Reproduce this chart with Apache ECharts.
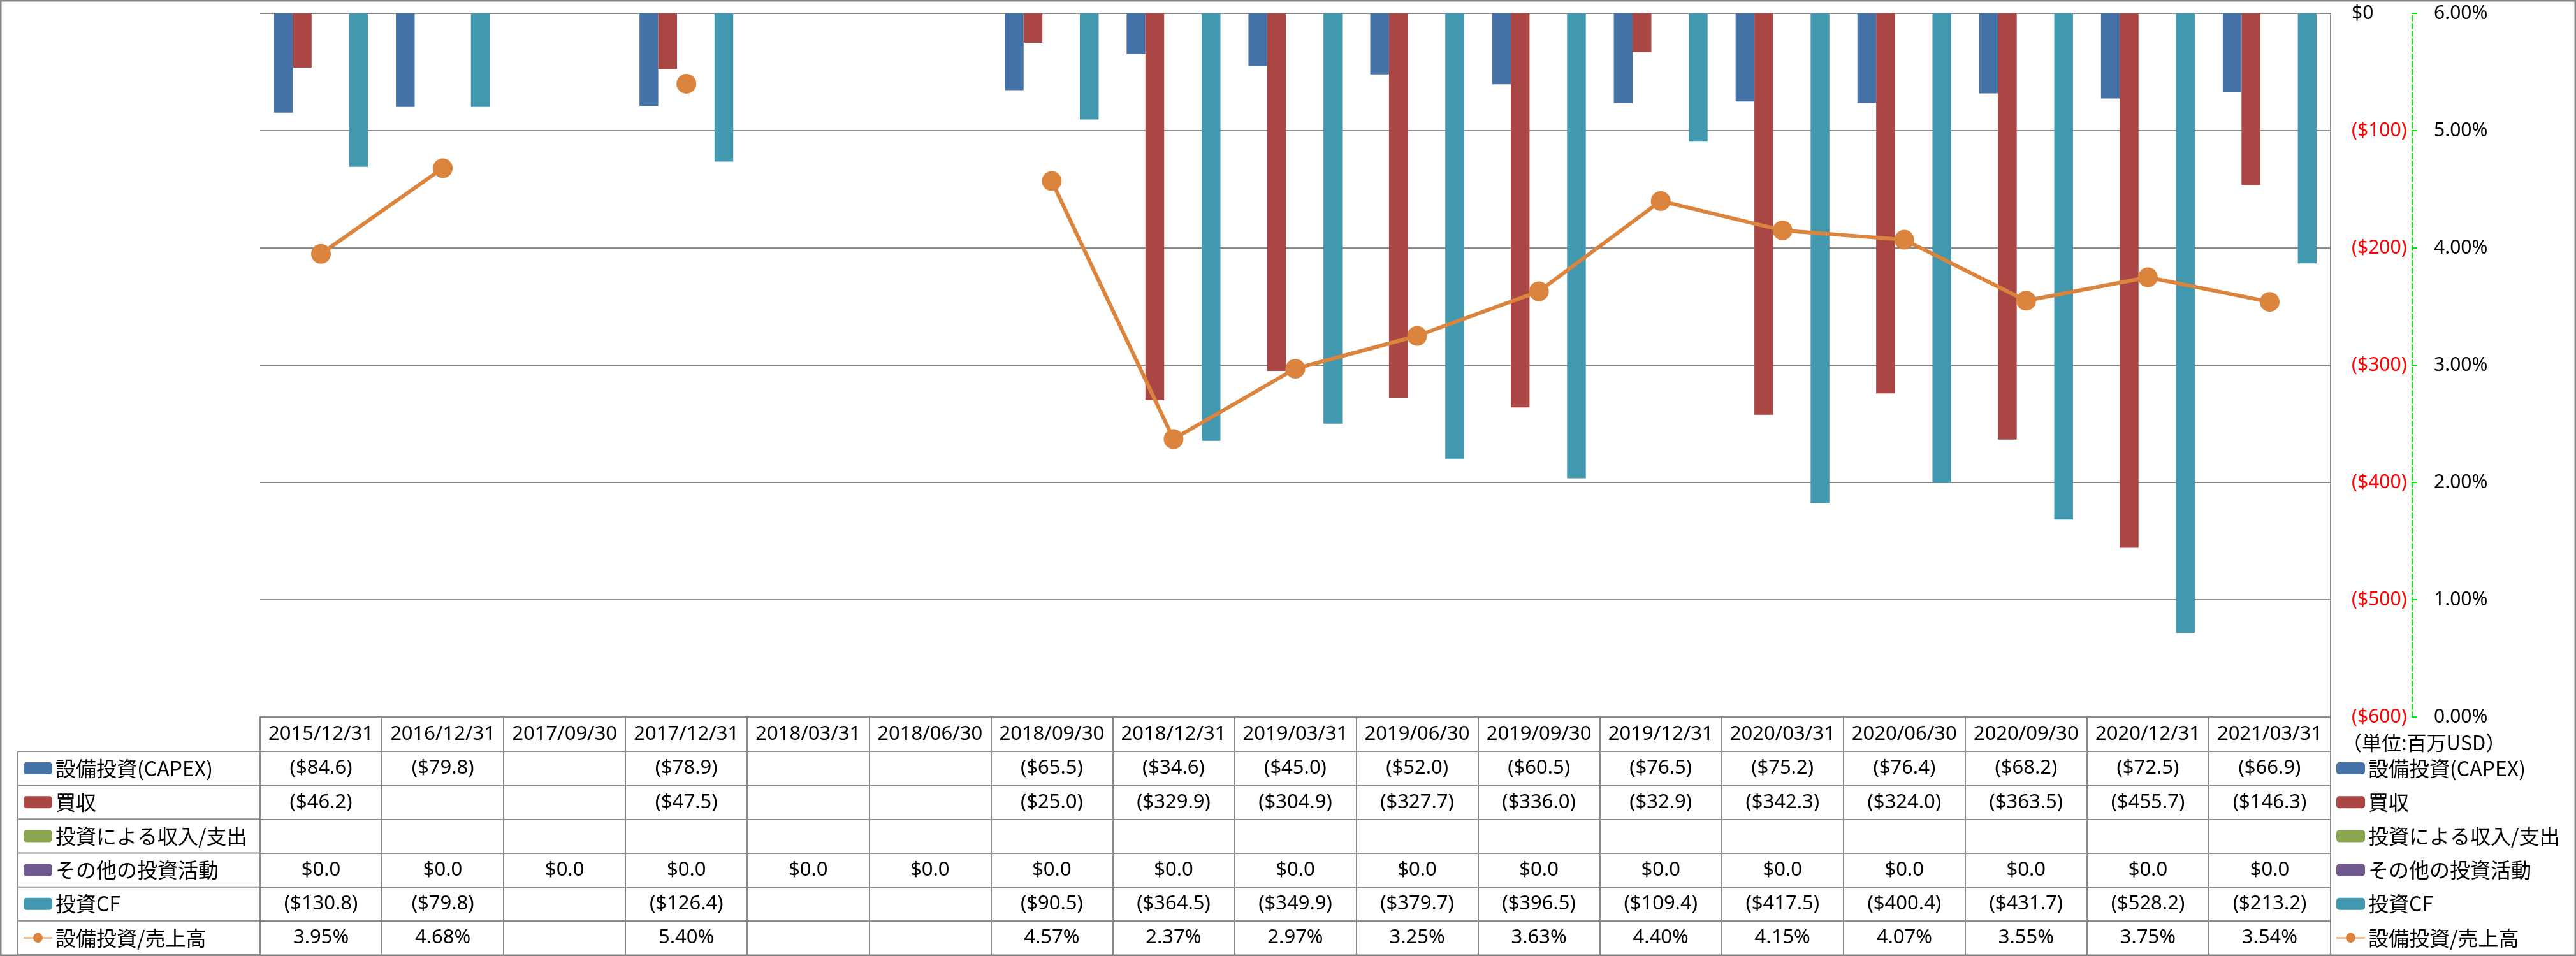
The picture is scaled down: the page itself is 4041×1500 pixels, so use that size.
<!DOCTYPE html>
<html>
<head>
<meta charset="utf-8">
<script src="https://cdn.jsdelivr.net/npm/echarts@6/dist/echarts.min.js"></script>
<style>
html,body{margin:0;padding:0;background:#fff;}
#chart{width:4041px;height:1500px;}
</style>
</head>
<body>
<div id="chart"></div>
<script>
// ---------- data ----------
const CATEGORIES = ['2015/12/31','2016/12/31','2017/09/30','2017/12/31','2018/03/31','2018/06/30','2018/09/30','2018/12/31','2019/03/31','2019/06/30','2019/09/30','2019/12/31','2020/03/31','2020/06/30','2020/09/30','2020/12/31','2021/03/31'];
const SERIES_NAMES = ['設備投資(CAPEX)','買収','投資による収入/支出','その他の投資活動','投資CF','設備投資/売上高'];
const CAPEX = [-84.6,-79.8,null,-78.9,null,null,-65.5,-34.6,-45.0,-52.0,-60.5,-76.5,-75.2,-76.4,-68.2,-72.5,-66.9];
const ACQUISITION = [-46.2,null,null,-47.5,null,null,-25.0,-329.9,-304.9,-327.7,-336.0,-32.9,-342.3,-324.0,-363.5,-455.7,-146.3];
const INVEST_INOUT = [null,null,null,null,null,null,null,null,null,null,null,null,null,null,null,null,null];
const OTHER_INVEST = [0,0,0,0,0,0,0,0,0,0,0,0,0,0,0,0,0];
const INVEST_CF = [-130.8,-79.8,null,-126.4,null,null,-90.5,-364.5,-349.9,-379.7,-396.5,-109.4,-417.5,-400.4,-431.7,-528.2,-213.2];
const CAPEX_RATIO = [3.95,4.68,null,5.40,null,null,4.57,2.37,2.97,3.25,3.63,4.40,4.15,4.07,3.55,3.75,3.54];
const USD_AXIS = {min:-600, max:0, interval:100};
const PCT_AXIS = {min:0, max:6, interval:1};
const UNIT_TEXT = '（単位:百万USD）';

// ---------- layout / style ----------
const COLORS = ['#4572A7','#AA4643','#89A54E','#71588F','#4198AF','#DB843D'];
const GRAY = '#8a8a8a';
const GRID_L = 408, GRID_R = 3656, GRID_T = 21, GRID_B = 1125;
const HEADER_H = 54, TABLE_BOTTOM = 1498, TABLE_L = 28;
const ROW_TOP = GRID_B + HEADER_H;
const ROW_H = (TABLE_BOTTOM - ROW_TOP) / 6;
const NUM_FONT = "'Noto Sans','Noto Sans CJK JP',sans-serif";
const JP_FONT = "'Noto Sans CJK JP','Noto Sans',sans-serif";

function fmtUSD(v){
  if (v === null || v === undefined) return '';
  if (v === 0) return '$0.0';
  return v < 0 ? '($' + Math.abs(v).toFixed(1) + ')' : '$' + v.toFixed(1);
}
function fmtPct(v){ return (v === null || v === undefined) ? '' : v.toFixed(2) + '%'; }

const ROWS = [CAPEX, ACQUISITION, INVEST_INOUT, OTHER_INVEST, INVEST_CF, CAPEX_RATIO];
const ROW_FMT = [fmtUSD, fmtUSD, fmtUSD, fmtUSD, fmtUSD, fmtPct];

function makeXAxis(offset, h, formatter){
  return {
    type:'category', data:CATEGORIES, gridIndex:0, position:'bottom', offset:offset,
    boundaryGap:true,
    axisLine:{show:true, onZero:false, lineStyle:{color:GRAY, width:2}},
    axisTick:{show:true, interval:0, length:h, lineStyle:{color:GRAY, width:2}},
    splitLine:{show:false},
    axisLabel:{show:true, interval:0, margin:0, hideOverlap:false, color:'#000',
      fontSize:31, fontFamily:NUM_FONT, lineHeight:h, formatter:formatter}
  };
}

const xAxes = [makeXAxis(0, HEADER_H, v => v)];
ROWS.forEach((arr, r) => {
  xAxes.push(makeXAxis(HEADER_H + r*ROW_H, ROW_H, (v, i) => ROW_FMT[r](arr[i])));
});

const barSeries = [CAPEX, ACQUISITION, INVEST_INOUT, OTHER_INVEST, INVEST_CF].map((d, i) => ({
  name: SERIES_NAMES[i], type:'bar', data:d, xAxisIndex:0, yAxisIndex:0,
  barGap:'0%', barCategoryGap:'23%', itemStyle:{color:COLORS[i]}
}));
const lineSeries = {
  name: SERIES_NAMES[5], type:'line', data:CAPEX_RATIO, xAxisIndex:0, yAxisIndex:1,
  connectNulls:false, symbol:'circle', symbolSize:31, showAllSymbol:true,
  lineStyle:{color:COLORS[5], width:6}, itemStyle:{color:COLORS[5]}, z:5
};

// left-column table lines
const graphics = [];
for (let r = 0; r <= 6; r++) {
  const y = ROW_TOP + r*ROW_H;
  graphics.push({type:'line', shape:{x1:TABLE_L, y1:y, x2:GRID_L, y2:y}, style:{stroke:GRAY, lineWidth:2}, silent:true});
}
graphics.push({type:'line', shape:{x1:TABLE_L, y1:ROW_TOP, x2:TABLE_L, y2:TABLE_BOTTOM}, style:{stroke:GRAY, lineWidth:2}, silent:true});
graphics.push({type:'rect', shape:{x:1, y:1, width:4039, height:1498}, style:{stroke:'#868686', lineWidth:3, fill:null}, silent:true, z:100});

const legendBase = {
  orient:'vertical', top: ROW_TOP + (ROW_H-40)/2, bottom:0, padding:0, itemWidth:45, itemHeight:19,
  itemGap: ROW_H - 40, selectedMode:false, data:SERIES_NAMES,
  textStyle:{fontSize:32, lineHeight:40, fontFamily:JP_FONT, color:'#000'}
};

const option = {
  animation:false,
  backgroundColor:'#fff',
  title:{text:UNIT_TEXT, left:3674, top:1149, padding:0, textStyle:{fontSize:31, lineHeight:33, fontWeight:'normal', color:'#000', fontFamily:JP_FONT}},
  legend:[Object.assign({left:36}, legendBase), Object.assign({left:3664}, legendBase)],
  grid:{left:GRID_L, right:4041-GRID_R, top:GRID_T, bottom:1500-GRID_B, containLabel:false},
  xAxis:xAxes,
  yAxis:[
    {type:'value', position:'right', min:USD_AXIS.min, max:USD_AXIS.max, interval:USD_AXIS.interval,
     axisLine:{show:true, onZero:false, lineStyle:{color:GRAY, width:2}},
     axisTick:{show:false},
     splitLine:{show:true, lineStyle:{color:GRAY, width:2}},
     axisLabel:{margin:33, fontSize:30, fontFamily:NUM_FONT,
       formatter: v => v === 0 ? '{b|$0}' : (v < 0 ? '{r|($' + Math.abs(v) + ')}' : '{b|$' + v + '}'),
       rich:{b:{color:'#000', fontSize:30, fontFamily:NUM_FONT}, r:{color:'#ff0000', fontSize:30, fontFamily:NUM_FONT}}}
    },
    {type:'value', position:'right', offset:128, min:PCT_AXIS.min, max:PCT_AXIS.max, interval:PCT_AXIS.interval,
     axisLine:{show:true, onZero:false, lineStyle:{color:'#00ee00', width:2, type:'dashed'}},
     axisTick:{show:true, length:12, lineStyle:{color:'#00ee00', width:2, type:'dashed'}},
     splitLine:{show:false},
     axisLabel:{margin:34, fontSize:30, fontFamily:NUM_FONT, color:'#000', formatter: v => v.toFixed(2) + '%'}
    }
  ],
  series: barSeries.concat([lineSeries]),
  graphic: graphics
};

const chart = echarts.init(document.getElementById('chart'), null, {renderer:'canvas'});
chart.setOption(option);
</script>
</body>
</html>
